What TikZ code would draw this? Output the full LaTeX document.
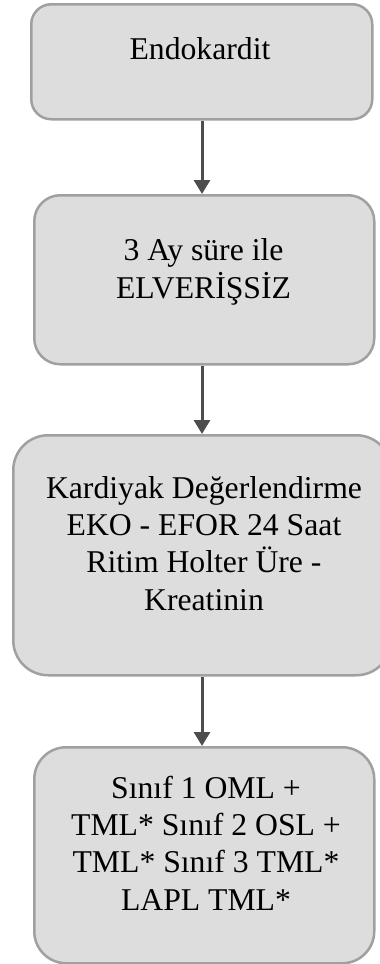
\documentclass[tikz,border=0pt]{standalone}
\usepackage{fontspec}
\setmainfont{Liberation Serif}
\usetikzlibrary{arrows.meta}
\definecolor{boxfill}{HTML}{DDDDDD}
\definecolor{boxline}{HTML}{A0A0A0}
\definecolor{arrowgray}{HTML}{4D4D4D}
\tikzset{
  flowbox/.style={draw=boxline, fill=boxfill, line width=2.5pt, inner sep=0pt, anchor=north west},
  boxtext/.style={align=center, font=\fontsize{31.7}{37.3}\selectfont, anchor=base, inner sep=0pt},
  flowarrow/.style={draw=arrowgray, line width=3pt, -{Triangle[width=16pt,length=14pt]}}
}
\begin{document}
\begin{tikzpicture}[x=1pt,y=-1pt]
\useasboundingbox (0,0) rectangle (380,964);
\clip (0,0) rectangle (380,964);
% boxes of the flow, top to bottom
\node[flowbox, minimum width=341pt, minimum height=115pt, rounded corners=20pt] (b1) at (30,3) {};
\node[flowbox, minimum width=340pt, minimum height=169pt, rounded corners=26pt] (b2) at (33,194) {};
\node[flowbox, minimum width=378pt, minimum height=240pt, rounded corners=35pt] (b3) at (12,434) {};
\node[flowbox, minimum width=340pt, minimum height=216pt, rounded corners=32pt] (b4) at (33,746) {};
% box texts (base anchor sits on the last line)
\node[boxtext] (t1) at (200,59) {Endokardit};
\node[boxtext] (t2) at (203.5,298) {3 Ay süre ile\\ELVERİŞSİZ};
\node[boxtext] (t3) at (204,610) {Kardiyak Değerlendirme\\EKO - EFOR 24 Saat\\Ritim Holter Üre -\\Kreatinin};
\node[boxtext] (t4) at (206,910) {Sınıf 1 OML +\\TML* Sınıf 2 OSL +\\TML* Sınıf 3 TML*\\LAPL TML*};
% connectors
\coordinate (ax) at (202,0);
\draw[flowarrow] (b1.south -| ax) -- (b2.north -| ax);
\draw[flowarrow] (b2.south -| ax) -- (b3.north -| ax);
\draw[flowarrow] (b3.south -| ax) -- (b4.north -| ax);
\end{tikzpicture}
\end{document}
